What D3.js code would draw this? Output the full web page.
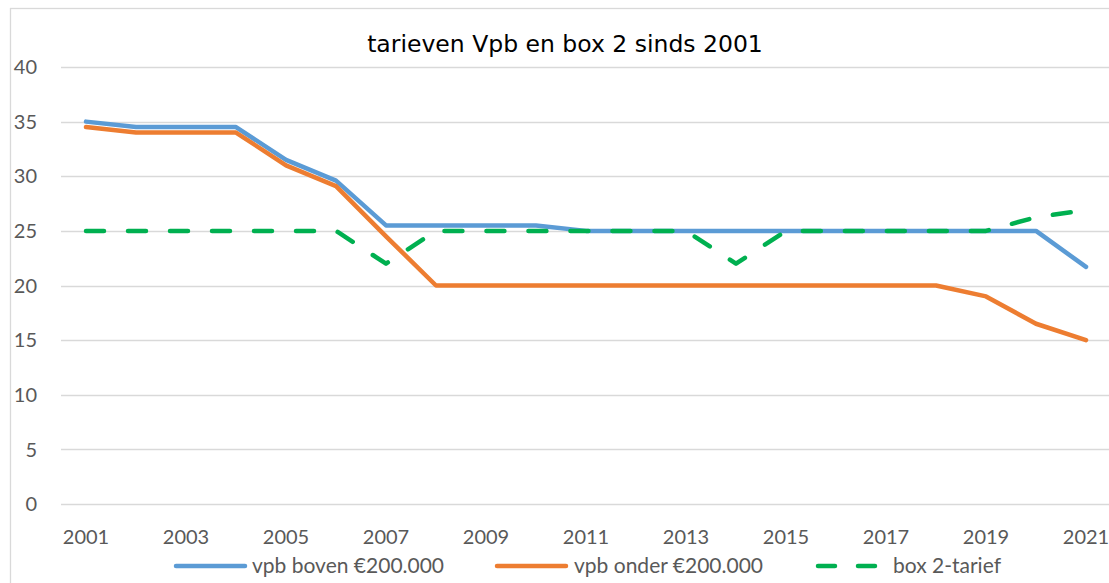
<!DOCTYPE html>
<html>
<head>
<meta charset="utf-8">
<script src="https://cdn.jsdelivr.net/npm/d3@7"></script>
<style>
  body { margin: 0; background: #fff; }
  svg { display: block; }
</style>
</head>
<body>
<script>
// chart data
var years = [2001, 2002, 2003, 2004, 2005, 2006, 2007, 2008, 2009, 2010, 2011,
             2012, 2013, 2014, 2015, 2016, 2017, 2018, 2019, 2020, 2021];
var vpbBoven = [35, 34.5, 34.5, 34.5, 31.5, 29.6, 25.5, 25.5, 25.5, 25.5, 25,
                25, 25, 25, 25, 25, 25, 25, 25, 25, 21.7];
var vpbOnder = [34.5, 34, 34, 34, 31, 29.1, 24.5, 20, 20, 20, 20,
                20, 20, 20, 20, 20, 20, 20, 19, 16.5, 15];
var box2 = [25, 25, 25, 25, 25, 25, 22, 25, 25, 25, 25,
            25, 25, 22, 25, 25, 25, 25, 25, 26.25, 26.9];
var yTicks = [0, 5, 10, 15, 20, 25, 30, 35, 40];
var xLabels = years.filter(function (y) { return (y - 2001) % 2 === 0; });

var series = [
    { name: "vpb boven €200.000", values: vpbBoven, color: "#5B9BD5", dash: null },
    { name: "vpb onder €200.000", values: vpbOnder, color: "#ED7D31", dash: null },
    { name: "box 2-tarief", values: box2, color: "#00B050", dash: "18 24" }
];

var width = 1109, height = 583;
var labelFont = "Lato, 'Open Sans', sans-serif";

var svg = d3.select("body").append("svg")
    .attr("width", width)
    .attr("height", height);

// chart frame
svg.append("rect")
    .attr("x", 10.5).attr("y", 8.5)
    .attr("width", 1200).attr("height", 700)
    .attr("fill", "#fff")
    .attr("stroke", "#d9d9d9")
    .attr("stroke-width", 1.3);

var x = d3.scaleBand()
    .domain(years)
    .range([61, 1111]);

var y = d3.scaleLinear()
    .domain([0, 40])
    .range([504, 67]);

// gridlines
svg.append("g")
    .selectAll("line")
    .data(yTicks)
    .enter().append("line")
    .attr("x1", 61).attr("x2", width)
    .attr("y1", function (d) { return Math.round(y(d)) + 0.5; })
    .attr("y2", function (d) { return Math.round(y(d)) + 0.5; })
    .attr("stroke", "#d9d9d9")
    .attr("stroke-width", 1.3);

// y axis labels
svg.append("g")
    .selectAll("text")
    .data(yTicks)
    .enter().append("text")
    .attr("x", 37)
    .attr("y", function (d) { return y(d); })
    .attr("dy", "0.36em")
    .attr("text-anchor", "end")
    .attr("font-family", labelFont)
    .attr("font-size", 20)
    .attr("fill", "#595959")
    .text(function (d) { return d; });

// x axis labels
svg.append("g")
    .selectAll("text")
    .data(xLabels)
    .enter().append("text")
    .attr("x", function (d) { return x(d) + x.bandwidth() / 2; })
    .attr("y", 544)
    .attr("text-anchor", "middle")
    .attr("font-family", labelFont)
    .attr("font-size", 20)
    .attr("fill", "#595959")
    .text(function (d) { return d; });

// title
svg.append("text")
    .attr("x", 565)
    .attr("y", 52)
    .attr("text-anchor", "middle")
    .attr("font-family", "'DejaVu Sans', Verdana, sans-serif")
    .attr("font-size", 23.5)
    .attr("fill", "#000")
    .text("tarieven Vpb en box 2 sinds 2001");

var line = d3.line()
    .x(function (d, i) { return x(years[i]) + x.bandwidth() / 2; })
    .y(function (d) { return y(d); });

svg.append("g")
    .selectAll("path")
    .data(series)
    .enter().append("path")
    .attr("d", function (s) { return line(s.values); })
    .attr("fill", "none")
    .attr("stroke", function (s) { return s.color; })
    .attr("stroke-width", 4.5)
    .attr("stroke-linejoin", "round")
    .attr("stroke-linecap", "round")
    .attr("stroke-dasharray", function (s) { return s.dash; });

// legend
var legendPos = [
    { x1: 176, x2: 245, tx: 252 },
    { x1: 497, x2: 566, tx: 574 },
    { x1: 818, x2: 876, tx: 893 }
];
var legend = svg.append("g")
    .selectAll("g")
    .data(series)
    .enter().append("g");

legend.append("line")
    .attr("x1", function (d, i) { return legendPos[i].x1; })
    .attr("x2", function (d, i) { return legendPos[i].x2; })
    .attr("y1", 566).attr("y2", 566)
    .attr("stroke", function (d) { return d.color; })
    .attr("stroke-width", 4.5)
    .attr("stroke-linecap", "round")
    .attr("stroke-dasharray", function (d) { return d.dash ? "17 23" : null; });

legend.append("text")
    .attr("x", function (d, i) { return legendPos[i].tx; })
    .attr("y", 573)
    .attr("font-family", labelFont)
    .attr("font-size", 21)
    .attr("fill", "#595959")
    .text(function (d) { return d.name; });
</script>
</body>
</html>
